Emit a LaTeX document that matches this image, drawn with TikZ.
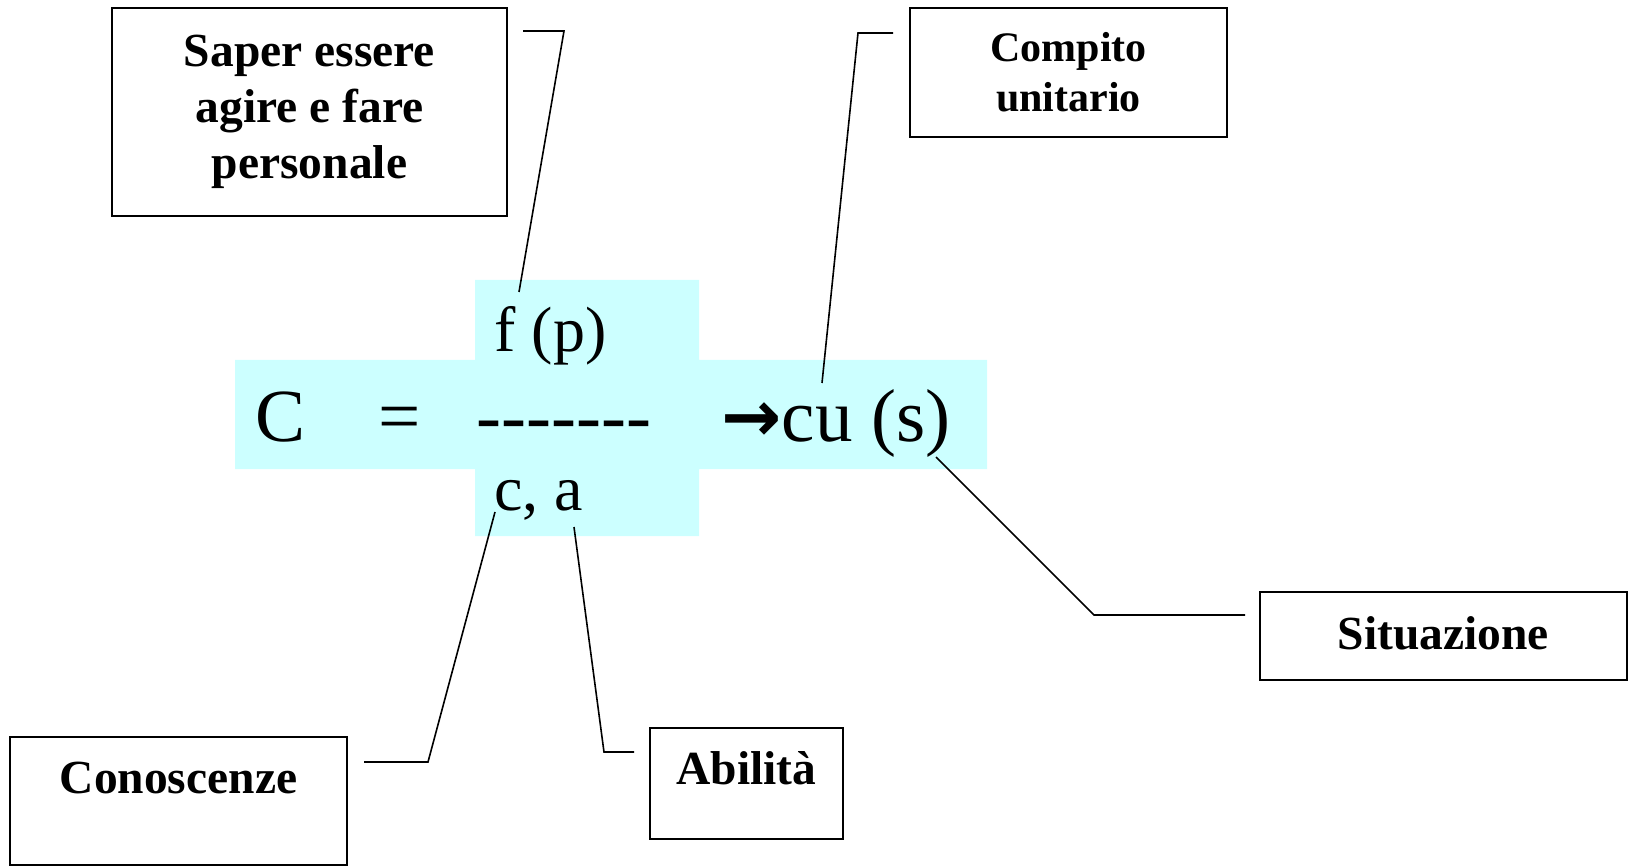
\documentclass[tikz,border=0pt]{standalone}
\usepackage{fontspec}
\setmainfont{Liberation Serif}
\newfontfamily\arrowfont{DejaVu Sans}
\usepackage{xcolor}
\definecolor{formulabg}{HTML}{CCFFFF}
\usetikzlibrary{positioning}
\newcommand\hy{\mbox{-}}

\begin{document}
\begin{tikzpicture}[
  x=0.5pt, y=-0.5pt,
  labelbox/.style={
    rectangle, draw=black, line width=1pt, align=center,
    font=\fontsize{23.75}{28}\selectfont\bfseries, inner sep=0pt
  },
  formula/.style={inner sep=0pt, font=\fontsize{37.5}{40}\selectfont},
  term/.style={inner sep=0pt, font=\fontsize{32}{36}\selectfont},
  callout/.style={black, line width=0.8pt}
]
\useasboundingbox (0,0) rectangle (1629,866);

% Formula background
\fill[formulabg] (475,280) -- (699,280) -- (699,360) -- (987,360) -- (987,469)
  -- (699,469) -- (699,536) -- (475,536) -- (475,469) -- (235,469)
  -- (235,360) -- (475,360) -- cycle;

% Formula
\node[formula, anchor=base west] (comp) at (255,442) {C};
\node[formula, anchor=base west] (eq) at (378,442) {=};
\node[formula, anchor=base west] (bar) at (476,442) {\hy\hy\hy\hy\hy\hy\hy};
\node[formula, anchor=base west] (res) at (721,442)
  {{\fontsize{36}{40}\selectfont\arrowfont\bfseries →}cu (s)};
\node[term, anchor=base west] (num) at (494,352) {f (p)};
\node[term, anchor=base west] (den) at (494,510) {c, a};

% Label boxes
\node[labelbox, minimum width=197.5pt, minimum height=104pt] (saper) at (309.5,112)
  {Saper essere\\agire e fare\\personale};
\node[labelbox, minimum width=158.5pt, minimum height=64.5pt,
  font=\fontsize{21}{25}\selectfont\bfseries] (compito) at (1068.5,72.5)
  {Compito\\unitario};
\node[labelbox, anchor=base, minimum width=183.5pt, text height=28.5pt, text depth=15.5pt]
  (situazione) at (1443.5,649) {Situazione};
\node[labelbox, anchor=base, minimum width=168.5pt, text height=28pt, text depth=36pt]
  (conoscenze) at (178.5,793) {Conoscenze};
\node[labelbox, anchor=base, minimum width=96.5pt, text height=28pt, text depth=27.5pt]
  (abilita) at (746.5,784) {Abilità};

% Callout ends
\coordinate (saperlead) at (523,31);
\coordinate (fptip) at (519,292);
\coordinate (compitolead) at (893,33);
\coordinate (cutip) at (822,383);
\coordinate (stip) at (936,457);
\coordinate (situazionelead) at (1245,615);
\coordinate (ctip) at (495,512);
\coordinate (conoscenzelead) at (364,762);
\coordinate (atip) at (574,527);
\coordinate (abilitalead) at (634,752);

% Callouts
\foreach \a/\k/\b in {saperlead/{(564,31)}/fptip, compitolead/{(858,33)}/cutip,
    stip/{(1094,615)}/situazionelead, ctip/{(428,762)}/conoscenzelead,
    atip/{(604,752)}/abilitalead}
  \draw[callout] (\a) -- \k -- (\b);
\end{tikzpicture}
\end{document}
